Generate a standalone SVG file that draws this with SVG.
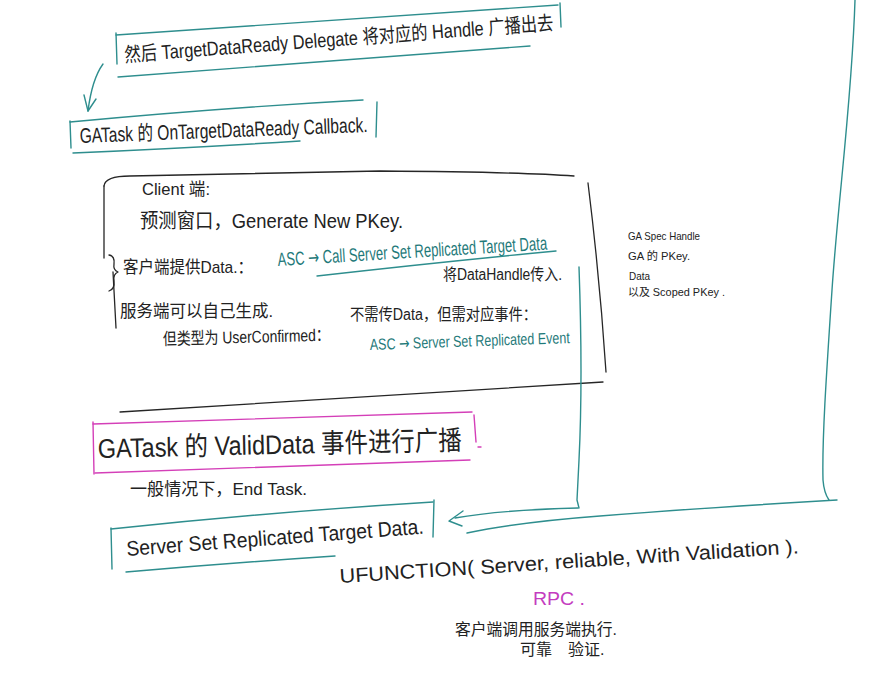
<svg xmlns="http://www.w3.org/2000/svg" width="884" height="675" viewBox="0 0 884 675">
<style>
  .ink{fill:none;stroke:#262626;stroke-width:1.3;stroke-linecap:round;stroke-linejoin:round}
  .teal{fill:none;stroke:#2e8e8e;stroke-width:1.4;stroke-linecap:round;stroke-linejoin:round}
  .mag{fill:none;stroke:#d43fb8;stroke-width:1.4;stroke-linecap:round;stroke-linejoin:round}
  .hw{font-family:"Liberation Sans","Noto Sans CJK SC",sans-serif;fill:#222}
  .tt{font-family:"Liberation Sans","Noto Sans CJK SC",sans-serif;fill:#1f7a7a}
  .mt{font-family:"Liberation Sans","Noto Sans CJK SC",sans-serif;fill:#c43cc0}
  .arr{font-family:"DejaVu Sans",sans-serif}
</style>
<rect width="884" height="675" fill="#ffffff"/>

<g id="node-delegate">
  <path class="teal" d="M116,33 L117,64"/>
  <path class="teal" d="M116,35 Q330,20 558,5"/>
  <path class="teal" d="M560,3 L561,27"/>
  <path class="teal" d="M118,77 Q320,62 530,46"/>
  <text class="hw" x="125" y="62" font-size="20" textLength="430" lengthAdjust="spacingAndGlyphs" transform="rotate(-4.3 125 62)">然后 TargetDataReady Delegate 将对应的 Handle 广播出去</text>
</g>

<g id="node-callback">
  <path class="teal" d="M70,121 L71,148"/>
  <path class="teal" d="M70,122 Q220,108 363,100"/>
  <path class="teal" d="M377,102 L376,137"/>
  <path class="teal" d="M73,153 Q190,148 300,141"/>
  <text class="hw" x="80" y="143" font-size="21" textLength="288" lengthAdjust="spacingAndGlyphs" transform="rotate(-2.2 80 143)">GATask 的 OnTargetDataReady Callback.</text>
</g>

<g id="node-client">
  <path class="ink" d="M104,186 Q105,176 130,176 L380,171 Q520,172 574,176"/>
  <path class="ink" d="M588,183 Q600,280 606,372"/>
  <path class="ink" d="M120,412 L603,382"/>
  <path class="ink" d="M104,186 L104,258"/>
  <path class="ink" d="M109,255 Q115,256 114,264 Q113,270 118,272 Q113,274 114,281 Q115,289 109,291"/>
  <path class="ink" d="M113,272 L116,328"/>
  <text class="hw" x="142" y="195" font-size="17" textLength="68" lengthAdjust="spacingAndGlyphs">Client 端:</text>
  <text class="hw" x="140" y="228" font-size="20" textLength="263" lengthAdjust="spacingAndGlyphs">预测窗口，Generate New  PKey.</text>
  <text class="hw" x="123" y="273" font-size="17" textLength="130" lengthAdjust="spacingAndGlyphs">客户端提供Data.：</text>
  <text class="tt" x="278" y="266" font-size="19" textLength="270" lengthAdjust="spacingAndGlyphs" transform="rotate(-3.5 278 266)">ASC <tspan class="arr">→</tspan> Call Server Set Replicated Target Data</text>
  <path class="teal" d="M317,276 Q440,262 556,251"/>
  <text class="hw" x="443" y="280" font-size="16" textLength="119" lengthAdjust="spacingAndGlyphs">将DataHandle传入.</text>
  <text class="hw" x="120" y="317" font-size="17" textLength="153" lengthAdjust="spacingAndGlyphs">服务端可以自己生成.</text>
  <text class="hw" x="163" y="345" font-size="17" textLength="167" lengthAdjust="spacingAndGlyphs" transform="rotate(-1.5 163 345)">但类型为 UserConfirmed：</text>
  <text class="hw" x="350" y="320" font-size="16" textLength="187" lengthAdjust="spacingAndGlyphs">不需传Data，但需对应事件：</text>
  <text class="tt" x="370" y="350" font-size="16" textLength="200" lengthAdjust="spacingAndGlyphs" transform="rotate(-2 370 350)">ASC <tspan class="arr">→</tspan> Server Set Replicated Event</text>
</g>

<g id="node-note">
  <text class="hw" x="628" y="240" font-size="11" textLength="72" lengthAdjust="spacingAndGlyphs">GA Spec Handle</text>
  <text class="hw" x="628" y="260" font-size="11" textLength="62" lengthAdjust="spacingAndGlyphs">GA 的 PKey.</text>
  <text class="hw" x="629" y="280" font-size="11" textLength="21" lengthAdjust="spacingAndGlyphs">Data</text>
  <text class="hw" x="628" y="296" font-size="11" textLength="97" lengthAdjust="spacingAndGlyphs">以及 Scoped PKey .</text>
</g>

<g id="node-validdata">
  <path class="mag" d="M93,422 L94,474"/>
  <path class="mag" d="M93,424 Q280,418 472,412"/>
  <path class="mag" d="M474,415 L476,442"/>
  <path class="mag" d="M478,447 L481,447"/>
  <path class="mag" d="M95,473 Q280,466 470,460"/>
  <text class="hw" x="98" y="458" font-size="27" textLength="364" lengthAdjust="spacingAndGlyphs" transform="rotate(-1.3 98 458)">GATask 的 ValidData 事件进行广播</text>
</g>

<g id="node-endtask">
  <text class="hw" x="130" y="495" font-size="17" textLength="177" lengthAdjust="spacingAndGlyphs">一般情况下，End Task.</text>
</g>

<g id="node-serverset">
  <path class="teal" d="M111,528 L112,569"/>
  <path class="teal" d="M111,529 Q270,512 433,502"/>
  <path class="teal" d="M434,500 L433,537"/>
  <path class="teal" d="M126,572 Q230,563 335,556"/>
  <text class="hw" x="127" y="556" font-size="21" textLength="298" lengthAdjust="spacingAndGlyphs" transform="rotate(-4.3 127 556)">Server Set Replicated Target Data.</text>
</g>

<g id="node-rpc">
  <text class="hw" x="340" y="583" font-size="20" textLength="460" lengthAdjust="spacingAndGlyphs" transform="rotate(-3.7 340 583)">UFUNCTION( Server, reliable, With Validation ).</text>
  <text class="mt" x="533" y="605" font-size="18" textLength="52" lengthAdjust="spacingAndGlyphs">RPC .</text>
  <text class="hw" x="455" y="635" font-size="16" textLength="162" lengthAdjust="spacingAndGlyphs">客户端调用服务端执行.</text>
  <text class="hw" font-size="16"><tspan x="520" y="655">可靠</tspan><tspan x="568" y="655">验证.</tspan></text>
</g>

<g id="connectors">
  <path class="teal" d="M103,64 C95,75 90,95 88,111"/>
  <path class="teal" d="M84,95 L88,111 L96,99"/>
  <path class="teal" d="M855,0 C852,100 838,200 832,290 C826,380 822,440 823,480 Q824,493 829,500"/>
  <path class="teal" d="M837,500 Q700,508 600,516 Q520,522 467,533"/>
  <path class="teal" d="M579,267 Q583,380 579,460 L577,500 L579,508"/>
  <path class="teal" d="M578,508 Q500,510 455,518"/>
  <path class="teal" d="M463,511 L449,521 L462,526"/>
</g>
</svg>
